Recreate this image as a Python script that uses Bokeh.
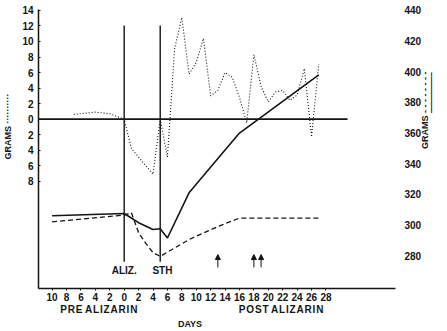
import math
from bokeh.plotting import figure
from bokeh.models import (Range1d, LinearAxis, FixedTicker, Label, Arrow,
                          NormalHead, CustomJSTickFormatter)
from bokeh.embed import file_html
from bokeh.resources import INLINE

# ---- data ----
dotted_days = [-7, -4, -2, 0, 1, 4, 5, 6, 7, 8, 9, 10, 11, 12, 13, 14, 15, 16,
               17, 18, 19, 20, 21, 22, 23, 24, 25, 26, 27]
dotted_grams = [0.6, 0.9, 0.7, 0.0, -3.8, -7.1, 0.0, -4.9, 9.1, 13.1, 5.8, 7.3,
                10.4, 3.0, 3.7, 6.0, 5.4, 2.8, -0.5, 8.3, 4.2, 2.2, 3.5, 3.7,
                2.4, 3.1, 6.5, -2.3, 7.1]

solid_days = [-10, 0, 2, 4, 5, 6, 9, 14, 16, 27]
solid_grams = [306, 307.5, 301.5, 297, 297.5, 291.5, 321, 349, 360, 398]

dashed_days = [-10, 0, 1, 2, 3, 4, 5, 9, 13, 16, 27]
dashed_grams = [302, 306.5, 308, 295, 288, 282, 279.5, 290.5, 299, 304.5, 304.5]

event_days = [0, 5]
event_names = ["ALIZ.", "STH"]
arrow_days = [13, 18, 19]

x_ticks = [-10, -8, -6, -4, -2, 0, 2, 4, 6, 8, 10, 12, 14, 16, 18, 20, 22, 24, 26, 28]
period_centers = [-3.3, 22.0]
period_names = ["PRE ALIZARIN", "POST ALIZARIN"]
left_ticks = [14, 12, 10, 8, 6, 4, 2, 0, -2, -4, -6, -8]
right_ticks = [280, 300, 320, 340, 360, 380, 400, 420, 440]

INK = "#141414"
FONT = "Liberation Sans"
EM = "\u2003"
HAIR = "\u200a"


def spaced(s):
    return HAIR.join(s).replace(HAIR + " " + HAIR, "  ")


p = figure(width=447, height=331, output_backend="svg", toolbar_location=None,
           x_range=Range1d(-11.89, 37.65), y_range=Range1d(-21.82, 14.12),
           min_border_left=37, min_border_right=35, min_border_top=9,
           min_border_bottom=42)
p.outline_line_color = None
p.grid.visible = False
p.extra_y_ranges = {"right": Range1d(258.54, 440.65)}

abs_fmt = CustomJSTickFormatter(code="return String(Math.abs(tick));")

xa = p.xaxis[0]
xa.ticker = FixedTicker(ticks=x_ticks)
xa.formatter = abs_fmt
ya = p.yaxis[0]
ya.ticker = FixedTicker(ticks=left_ticks)
ya.formatter = abs_fmt

ra = LinearAxis(y_range_name="right", ticker=FixedTicker(ticks=right_ticks))
p.add_layout(ra, "right")

period_fmt = CustomJSTickFormatter(
    args=dict(c=period_centers, n=[spaced(s) for s in period_names]),
    code="return tick < (c[0] + c[1]) / 2 ? n[0] : n[1];")
pa = LinearAxis(ticker=FixedTicker(ticks=period_centers), formatter=period_fmt,
                axis_label="DAYS" + EM * 6)
p.add_layout(pa, "below")

for ax in (xa, ya, ra, pa):
    ax.major_label_text_font = FONT
    ax.major_label_text_font_style = "bold"
    ax.major_label_text_font_size = "10px"
    ax.major_label_text_color = INK
    ax.axis_line_color = INK
    ax.axis_line_width = 1.5
    ax.major_tick_line_color = INK
    ax.minor_tick_line_color = None
    ax.axis_label_text_font = FONT
    ax.axis_label_text_font_style = "bold"
    ax.axis_label_text_font_size = "9px"
    ax.axis_label_text_color = INK
xa.major_tick_in = 0
xa.major_tick_out = 2
xa.major_label_standoff = 2
ya.major_tick_in = 2
ya.major_tick_out = 0
ya.major_label_standoff = 5
ya.axis_label = EM * 5 + "GRAMS \u00b7\u00b7\u00b7\u00b7\u00b7\u00b7\u00b7\u00b7\u00b7\u00b7"
ya.axis_label_standoff = 6
ra.axis_line_color = None
ra.major_tick_line_color = None
ra.major_label_standoff = 3
ra.axis_label = "GRAMS - - - - - - - -\n" + EM * 4 + "\u2014\u2014\u2014\u2014\u2013"
ra.axis_label_orientation = math.pi / 2
ra.axis_label_text_line_height = 0.6
ra.axis_label_standoff = 4
pa.axis_line_color = None
pa.major_tick_line_color = None
pa.major_tick_in = 0
pa.major_tick_out = 0
pa.major_label_standoff = 0
pa.axis_label_standoff = 1

# zero line
p.segment(x0=[-11.89], y0=[0], x1=[31.0], y1=[0], line_color=INK, line_width=1.6)

# event lines
p.segment(x0=event_days, y0=[12.07] * len(event_days), x1=event_days,
          y1=[-18.36] * len(event_days), line_color=INK, line_width=1.4)

# series
p.line(dotted_days, dotted_grams, line_color=INK, line_width=1.1, line_dash="1 2")
p.line(solid_days, solid_grams, y_range_name="right", line_color=INK, line_width=1.6)
p.line(dashed_days, dashed_grams, y_range_name="right", line_color=INK,
       line_width=1.3, line_dash="5 3")

for d in arrow_days:
    p.add_layout(Arrow(end=NormalHead(size=5, fill_color=INK, line_color=INK),
                       x_start=d, y_start=-19.1, x_end=d, y_end=-17.45,
                       line_color=INK, line_width=1))

for d, name, dx in zip(event_days, event_names, [0.0, 0.3]):
    p.add_layout(Label(x=d + dx, y=-19.5, text=name,
                       text_font=FONT, text_font_style="bold",
                       text_font_size="10px", text_color=INK,
                       text_align="center", text_baseline="middle"))

open("out.html", "w").write(file_html(p, INLINE))
